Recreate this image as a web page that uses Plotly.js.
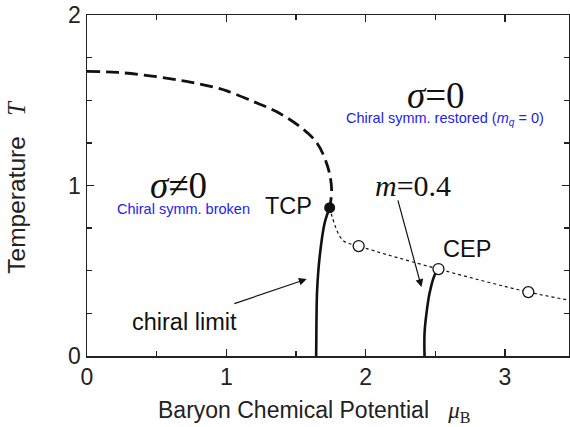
<!DOCTYPE html>
<html><head><meta charset="utf-8">
<script src="https://cdn.plot.ly/plotly-3.0.1.min.js"></script>
<style>html,body{margin:0;padding:0;background:#fff}#c{width:570px;height:427px}</style>
</head><body><div id="c"></div>
<script>
// Phase-boundary data (mu_B, T)
const crossMu = [0, 0.222, 0.466, 0.703, 0.903, 1.004, 1.190, 1.362, 1.527, 1.649, 1.728, 1.756, 1.742];
const crossT  = [1.669, 1.663, 1.642, 1.612, 1.578, 1.555, 1.494, 1.432, 1.346, 1.251, 1.110, 0.975, 0.870];
const chiralMu = [1.742, 1.706, 1.670, 1.652, 1.647, 1.645];
const chiralT  = [0.870, 0.781, 0.581, 0.386, 0.192, 0.0];
const dotMu = [1.742, 1.835, 1.95, 2.523, 3.168, 3.46];
const dotT  = [0.870, 0.680, 0.645, 0.510, 0.375, 0.328];
const m04Mu = [2.523, 2.495, 2.459, 2.437, 2.423, 2.423];
const m04T  = [0.510, 0.474, 0.368, 0.251, 0.134, 0.0];
const openMu = [1.95, 2.523, 3.168];
const openT  = [0.645, 0.510, 0.375];
const tcpMu = [1.742];
const tcpT  = [0.870];

const traces = [
  {x: crossMu, y: crossT, mode: 'lines', line: {color: '#111', width: 2.8, dash: '13px,6px', shape: 'spline', smoothing: 1}, hoverinfo: 'skip'},
  {x: chiralMu, y: chiralT, mode: 'lines', line: {color: '#111', width: 2.6, shape: 'spline'}, hoverinfo: 'skip'},
  {x: dotMu, y: dotT, mode: 'lines', line: {color: '#111', width: 1.2, dash: '3px,3px', shape: 'spline'}, hoverinfo: 'skip'},
  {x: m04Mu, y: m04T, mode: 'lines', line: {color: '#111', width: 2.6, shape: 'spline'}, hoverinfo: 'skip'},
  {x: openMu, y: openT, mode: 'markers', marker: {size: 11, color: '#fff', line: {color: '#111', width: 1.3}}, hoverinfo: 'skip'},
  {x: tcpMu, y: tcpT, mode: 'markers', marker: {size: 11, color: '#111'}, hoverinfo: 'skip'}
];

const serif = 'Liberation Serif, Times New Roman, serif';
const sans = 'Liberation Sans, Arial, sans-serif';
const blue = '#2222ee';

const layout = {
  width: 570, height: 427,
  margin: {l: 87, r: 1, t: 15, b: 71},
  paper_bgcolor: '#fff', plot_bgcolor: '#fff',
  showlegend: false,
  font: {family: sans, color: '#222'},
  xaxis: {
    range: [0, 3.46], dtick: 1, tick0: 0, ticks: 'inside', ticklen: 7, tickwidth: 1.3, tickcolor: '#222',
    minor: {dtick: 0.5, ticks: 'inside', ticklen: 5, tickcolor: '#222'},
    showline: true, linecolor: '#222', linewidth: 1.5, mirror: 'ticks', showgrid: false, zeroline: false,
    tickfont: {size: 23, family: sans, color: '#222'}
  },
  yaxis: {
    range: [0, 2], dtick: 1, tick0: 0, ticks: 'inside', ticklen: 7, tickwidth: 1.3, tickcolor: '#222',
    minor: {dtick: 0.25, ticks: 'inside', ticklen: 5, tickcolor: '#222'},
    showline: true, linecolor: '#222', linewidth: 1.5, mirror: 'ticks', showgrid: false, zeroline: false,
    tickfont: {size: 23, family: sans, color: '#222'}
  },
  annotations: [
    {x: 0.473, y: -0.163, xref: 'paper', yref: 'paper', xanchor: 'center', yanchor: 'middle', showarrow: false,
     text: 'Baryon Chemical Potential&nbsp;&nbsp;&nbsp;<span style="font-family:Liberation Serif;font-style:italic">μ</span><sub><span style="font-family:Liberation Serif">B</span></sub>', font: {size: 23, family: sans, color: '#222'}},
    {x: -0.147, y: 0.497, xref: 'paper', yref: 'paper', xanchor: 'center', yanchor: 'middle', textangle: -90, showarrow: false,
     text: 'Temperature&nbsp;&nbsp;&nbsp;<span style="font-family:Liberation Serif;font-style:italic">T</span>', font: {size: 24.5, family: sans, color: '#222'}},
    {x: 0.66, y: 1.0, xref: 'x', yref: 'y', showarrow: false, text: '<i>σ</i>≠0', font: {family: serif, size: 37, color: '#111'}},
    {x: 0.69, y: 0.86, xref: 'x', yref: 'y', showarrow: false, text: 'Chiral symm. broken', font: {family: sans, size: 14.5, color: blue}},
    {x: 2.505, y: 1.53, xref: 'x', yref: 'y', showarrow: false, text: '<i>σ</i>=0', font: {family: serif, size: 37, color: '#111'}},
    {x: 2.57, y: 1.39, xref: 'x', yref: 'y', showarrow: false, text: 'Chiral symm. restored (<i>m<sub>q</sub></i> = 0)', font: {family: sans, size: 14.5, color: blue}},
    {x: 2.34, y: 1.0, xref: 'x', yref: 'y', showarrow: false, text: '<i>m</i>=0.4', font: {family: serif, size: 30, color: '#111'}},
    {x: 1.45, y: 0.88, xref: 'x', yref: 'y', showarrow: false, text: 'TCP', font: {family: sans, size: 23.5, color: '#111'}},
    {x: 2.73, y: 0.63, xref: 'x', yref: 'y', showarrow: false, text: 'CEP', font: {family: sans, size: 23.5, color: '#111'}},
    {x: 0.70, y: 0.20, xref: 'x', yref: 'y', showarrow: false, text: 'chiral limit', font: {family: sans, size: 23.5, color: '#111'}},
    {x: 1.577, y: 0.451, ax: 1.047, ay: 0.304, xref: 'x', yref: 'y', axref: 'x', ayref: 'y', showarrow: true, text: '', arrowhead: 2, arrowsize: 1.3, arrowwidth: 1.2, arrowcolor: '#111'},
    {x: 2.401, y: 0.404, ax: 2.229, ay: 0.922, xref: 'x', yref: 'y', axref: 'x', ayref: 'y', showarrow: true, text: '', arrowhead: 2, arrowsize: 1.3, arrowwidth: 1.2, arrowcolor: '#111'}
  ]
};

Plotly.newPlot('c', traces, layout, {staticPlot: true, displayModeBar: false});
</script>
</body></html>
